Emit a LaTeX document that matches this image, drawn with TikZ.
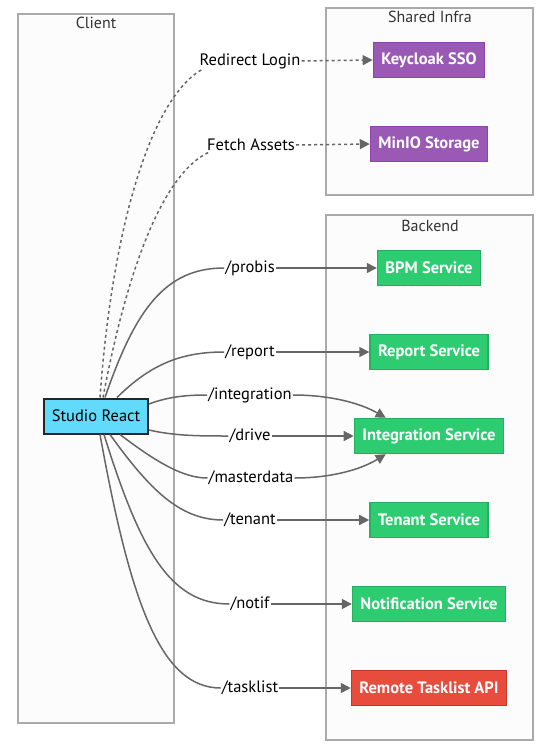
\documentclass[tikz,border=0pt]{standalone}
\usepackage{fontspec}
\setmainfont{PT Sans}
\usetikzlibrary{arrows.meta}

\definecolor{clusterfill}{RGB}{252,252,252}
\definecolor{clusterline}{RGB}{170,170,170}
\definecolor{edgegray}{RGB}{102,102,102}
\definecolor{purplefill}{RGB}{155,89,182}
\definecolor{purpleline}{RGB}{142,68,173}
\definecolor{greenfill}{RGB}{46,204,113}
\definecolor{greenline}{RGB}{39,174,96}
\definecolor{redfill}{RGB}{231,76,60}
\definecolor{redline}{RGB}{192,57,43}
\definecolor{reactfill}{RGB}{97,218,251}

\tikzset{
  cluster/.style={draw=clusterline, fill=clusterfill, line width=1.2pt},
  clustertitle/.style={font=\fontsize{16}{19}\selectfont, text=black!80},
  service/.style={font=\fontsize{16.5}{19}\selectfont\bfseries, text=white,
    minimum height=35pt, inner xsep=8pt, line width=1.4pt},
  infra/.style={service, draw=purpleline, fill=purplefill},
  backend/.style={service, draw=greenline, fill=greenfill},
  remote/.style={service, draw=redline, fill=redfill},
  client/.style={font=\fontsize{16.5}{19}\selectfont, draw=black!85, fill=reactfill,
    minimum width=104pt, minimum height=35pt, line width=2pt},
  edgelabel/.style={font=\fontsize{16.5}{19}\selectfont, fill=white, inner sep=1pt},
  link/.style={draw=edgegray, line width=1.5pt},
  dotlink/.style={link, dash pattern=on 3pt off 3pt},
  arrow/.style={-{Triangle[length=10pt,width=10pt]}}
}

\begin{document}
\begin{tikzpicture}[x=1pt,y=-1pt]
  \useasboundingbox (0,0) rectangle (547,752);
  \fill[white] (0,0) rectangle (547,752);

  %draw clusters
  \draw[cluster] (18,14) rectangle (174,723);
  \draw[cluster] (326,8) rectangle (533,195);
  \draw[cluster] (326,215) rectangle (533,740);
  \node[clustertitle] (clienttitle) at (96,23) {Client};
  \node[clustertitle] (infratitle) at (430,17) {Shared Infra};
  \node[clustertitle] (backendtitle) at (430,226) {Backend};

  %draw nodes
  \node[client] (studio) at (96,416) {Studio React};
  \node[infra] (keycloak) at (429,60) {Keycloak SSO};
  \node[infra] (minio) at (429,144) {MinIO Storage};
  \node[backend] (bpm) at (429,268) {BPM Service};
  \node[backend] (report) at (429,352) {Report Service};
  \node[backend] (integsvc) at (429,436) {Integration Service};
  \node[backend] (tenant) at (429,520) {Tenant Service};
  \node[backend] (notif) at (429,604) {Notification Service};
  \node[remote] (tasklist) at (429,688) {Remote Tasklist API};

  %draw edge labels
  \node[edgelabel] (login) at (250,61) {Redirect Login};
  \node[edgelabel] (assets) at (251,145) {Fetch Assets};
  \node[edgelabel] (probislbl) at (250,268) {/probis};
  \node[edgelabel] (reportlbl) at (250,352) {/report};
  \node[edgelabel] (integlbl) at (250,395) {/integration};
  \node[edgelabel] (drivelbl) at (250,436) {/drive};
  \node[edgelabel] (masterlbl) at (251,478) {/masterdata};
  \node[edgelabel] (tenantlbl) at (250,520) {/tenant};
  \node[edgelabel] (notiflbl) at (250,604) {/notif};
  \node[edgelabel] (tasklbl) at (250,688) {/tasklist};

  %draw dotted edges
  \draw[dotlink] ([xshift=4pt]studio.north) .. controls (112,230) and (150,100) .. ([xshift=3pt]login.south west);
  \draw[dotlink, arrow] (login.east) -- (keycloak.west);
  \draw[dotlink] ([xshift=7pt]studio.north) .. controls (125,280) and (160,175) .. ([xshift=3pt]assets.south west);
  \draw[dotlink, arrow] (assets.east) -- (minio.west);

  %draw solid edges
  \draw[link] ([xshift=9pt]studio.north) .. controls (135,310) and (165,268) .. (probislbl.west);
  \draw[link, arrow] (probislbl.east) -- (bpm.west);
  \draw[link] ([xshift=21pt]studio.north) .. controls (150,365) and (180,352) .. (reportlbl.west);
  \draw[link, arrow] (reportlbl.east) -- (report.west);
  \draw[link] ([yshift=12pt]studio.east) .. controls (170,396) and (190,395) .. (integlbl.west);
  \draw[link, arrow] (integlbl.east) .. controls (330,395) and (360,403) .. ([xshift=32pt]integsvc.north west);
  \draw[link] ([yshift=-14pt]studio.east) .. controls (175,436) and (200,436) .. (drivelbl.west);
  \draw[link, arrow] (drivelbl.east) -- (integsvc.west);
  \draw[link] ([xshift=24pt]studio.south) .. controls (160,465) and (185,478) .. (masterlbl.west);
  \draw[link, arrow] (masterlbl.east) .. controls (330,478) and (360,470) .. ([xshift=32pt]integsvc.south west);
  \draw[link] ([xshift=14pt]studio.south) .. controls (150,490) and (180,520) .. (tenantlbl.west);
  \draw[link, arrow] (tenantlbl.east) -- (tenant.west);
  \draw[link] ([xshift=8pt]studio.south) .. controls (140,550) and (170,604) .. (notiflbl.west);
  \draw[link, arrow] (notiflbl.east) -- (notif.west);
  \draw[link] ([xshift=4pt]studio.south) .. controls (130,600) and (160,688) .. (tasklbl.west);
  \draw[link, arrow] (tasklbl.east) -- (tasklist.west);
\end{tikzpicture}
\end{document}
